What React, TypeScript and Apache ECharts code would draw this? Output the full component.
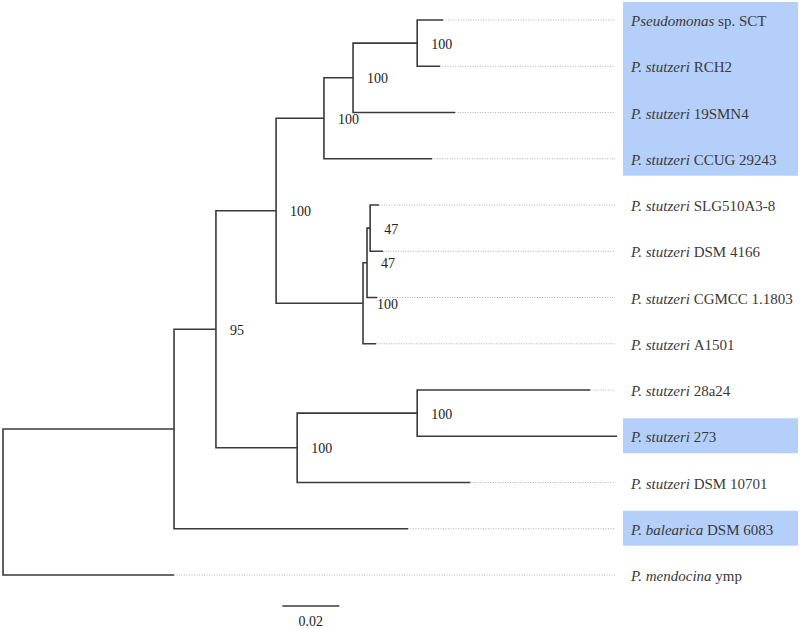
import { useEffect, useRef } from "react";
import * as echarts from "echarts";

// Leaves (top to bottom)
const leafGenus = [
  "Pseudomonas", "P. stutzeri", "P. stutzeri", "P. stutzeri", "P. stutzeri",
  "P. stutzeri", "P. stutzeri", "P. stutzeri", "P. stutzeri", "P. stutzeri",
  "P. stutzeri", "P. balearica", "P. mendocina",
];
const leafStrain = [
  "sp. SCT", "RCH2", "19SMN4", "CCUG 29243", "SLG510A3-8",
  "DSM 4166", "CGMCC 1.1803", "A1501", "28a24", "273",
  "DSM 10701", "DSM 6083", "ymp",
];
// distance from root (substitutions per site)
const leafDepth = [
  0.1544, 0.1533, 0.1586, 0.1505, 0.1319,
  0.1333, 0.1312, 0.1309, 0.2060, 0.2154,
  0.1639, 0.1421, 0.0600,
];
const highlighted = [
  true, true, true, true, false,
  false, false, false, false, true,
  false, true, false,
];

// Internal nodes
const nodeIds = ["A", "B", "C", "D", "E", "F", "G", "H", "I", "J", "K", "R"];
const nodeChildren = [
  ["L0", "L1"], ["A", "L2"], ["B", "L3"],
  ["L4", "L5"], ["D", "L6"], ["E", "L7"],
  ["C", "F"], ["L8", "L9"], ["H", "L10"],
  ["G", "I"], ["J", "L11"], ["K", "L12"],
];
const nodeDepth = [0.1453, 0.1228, 0.1126, 0.1288, 0.1277, 0.1263, 0.0958, 0.1453, 0.1032, 0.0747, 0.0600, 0.0];
const nodeSupport = [100, 100, 100, 47, 47, 100, 100, 100, 100, 95, null, null];

const guideEnd = 0.2147;
const scaleBarStart = 0.098;
const scaleBarLength = 0.02;
const scaleBarLabel = "0.02";
const scaleBarRow = 12.67;

const FONT = "Liberation Serif";

export default function App() {
  const ref = useRef<HTMLDivElement>(null);

  useEffect(() => {
    document.body.style.margin = "0";
    if (!ref.current) return;
    const chart = echarts.init(ref.current, undefined, { renderer: "svg" });

    const pos: Record<string, { x: number; y: number }> = {};
    leafDepth.forEach((d, i) => (pos["L" + i] = { x: d, y: i }));
    const resolve = (id: string): { x: number; y: number } => {
      if (pos[id]) return pos[id];
      const k = nodeIds.indexOf(id);
      const [a, b] = nodeChildren[k].map(resolve);
      pos[id] = { x: nodeDepth[k], y: (a.y + b.y) / 2 };
      return pos[id];
    };
    nodeIds.forEach(resolve);

    const branchData = nodeIds.map((id, k) => {
      const [a, b] = nodeChildren[k].map((c) => pos[c]);
      const top = a.y < b.y ? a : b;
      const bot = a.y < b.y ? b : a;
      return [top.x, top.y, nodeDepth[k], top.y, nodeDepth[k], bot.y, bot.x, bot.y];
    });
    const guideData = leafDepth
      .map((d, i) => [d, i, guideEnd, i])
      .filter((r) => r[0] < guideEnd - 0.001);
    const supportData = nodeIds
      .map((id, k) => [pos[id].x, pos[id].y, nodeSupport[k]])
      .filter((r) => r[2] != null);
    const leafData = leafDepth.map((_, i) => [guideEnd, i, i]);

    const boxData: number[][] = [];
    let start = -1;
    highlighted.forEach((h, i) => {
      if (h && start < 0) start = i;
      if (start >= 0 && (!h || i === highlighted.length - 1)) {
        boxData.push([guideEnd, start, h ? i : i - 1]);
        start = -1;
      }
    });

    const option: any = {
      animation: false,
      textStyle: { fontFamily: FONT },
      grid: { left: 3, right: 183, top: 20, bottom: 54 },
      xAxis: { type: "value", min: 0, max: 0.2154, show: false },
      yAxis: { type: "value", min: 0, max: 12, inverse: true, show: false },
      series: [
        {
          type: "custom",
          name: "highlight",
          clip: false,
          z: 1,
          data: boxData,
          renderItem: (_p: any, api: any) => {
            const a = api.coord([api.value(0), api.value(1)]);
            const b = api.coord([api.value(0), api.value(2)]);
            return {
              type: "rect",
              shape: { x: a[0] + 8, y: a[1] - 18, width: 175, height: b[1] - a[1] + 35 },
              style: { fill: "#b4cffa" },
            };
          },
        },
        {
          type: "custom",
          name: "guides",
          clip: false,
          z: 2,
          data: guideData,
          renderItem: (_p: any, api: any) => {
            const a = api.coord([api.value(0), api.value(1)]);
            const b = api.coord([api.value(2), api.value(3)]);
            return {
              type: "line",
              shape: { x1: a[0], y1: a[1], x2: b[0], y2: b[1] },
              style: { stroke: "#b0b0b0", lineWidth: 1, lineDash: [1, 1.5] },
            };
          },
        },
        {
          type: "custom",
          name: "branches",
          clip: false,
          z: 3,
          data: branchData,
          renderItem: (_p: any, api: any) => {
            const pts = [0, 2, 4, 6].map((j) => api.coord([api.value(j), api.value(j + 1)]));
            return {
              type: "polyline",
              shape: { points: pts },
              style: { stroke: "#3a3a3a", lineWidth: 1.6, fill: "none" },
            };
          },
        },
        {
          type: "custom",
          name: "support",
          clip: false,
          z: 4,
          data: supportData,
          renderItem: (_p: any, api: any) => {
            const a = api.coord([api.value(0), api.value(1)]);
            return {
              type: "text",
              x: a[0] + 14,
              y: a[1] + 1,
              style: {
                text: String(api.value(2)),
                fill: "#222",
                fontFamily: FONT,
                fontSize: 14,
                verticalAlign: "middle",
                align: "left",
              },
            };
          },
        },
        {
          type: "custom",
          name: "leaves",
          clip: false,
          z: 5,
          data: leafData,
          renderItem: (_p: any, api: any) => {
            const a = api.coord([api.value(0), api.value(1)]);
            const i = api.value(2);
            return {
              type: "text",
              x: a[0] + 16,
              y: a[1] + 1,
              style: {
                text: `{g|${leafGenus[i]}} {s|${leafStrain[i]}}`,
                verticalAlign: "middle",
                align: "left",
                fontFamily: FONT,
                fontSize: 15,
                fill: "#3a3a3a",
                rich: {
                  g: { fontFamily: FONT, fontSize: 15, fontStyle: "italic", fill: "#3a3a3a" },
                  s: { fontFamily: FONT, fontSize: 15, fill: "#3a3a3a" },
                },
              },
            };
          },
        },
        {
          type: "custom",
          name: "scale",
          clip: false,
          z: 4,
          data: [[scaleBarStart, scaleBarRow, scaleBarStart + scaleBarLength]],
          renderItem: (_p: any, api: any) => {
            const a = api.coord([api.value(0), api.value(1)]);
            const b = api.coord([api.value(2), api.value(1)]);
            return {
              type: "group",
              children: [
                {
                  type: "line",
                  shape: { x1: a[0], y1: a[1], x2: b[0], y2: b[1] },
                  style: { stroke: "#3a3a3a", lineWidth: 1.6 },
                },
                {
                  type: "text",
                  x: (a[0] + b[0]) / 2,
                  y: a[1] + 16,
                  style: {
                    text: scaleBarLabel,
                    fill: "#222",
                    fontFamily: FONT,
                    fontSize: 14,
                    align: "center",
                    verticalAlign: "middle",
                  },
                },
              ],
            };
          },
        },
      ],
    };
    chart.setOption(option);
    return () => chart.dispose();
  }, []);

  return <div ref={ref} style={{ width: 800, height: 629, background: "#fff" }} />;
}
